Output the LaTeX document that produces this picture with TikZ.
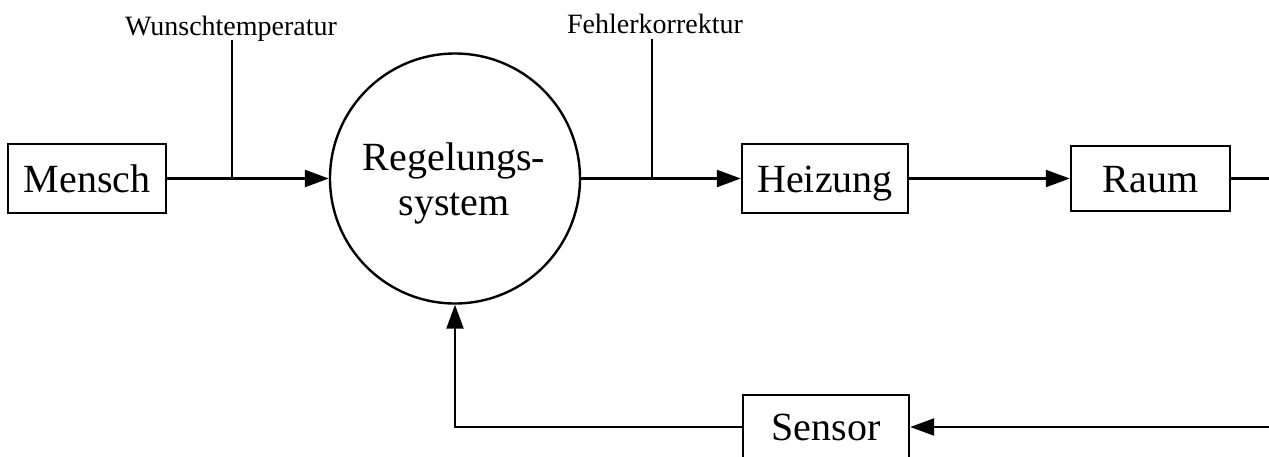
\documentclass[tikz,border=0pt]{standalone}
\usepackage{fontspec}
\setmainfont{Liberation Serif}
\usetikzlibrary{arrows.meta}
\begin{document}
\begin{tikzpicture}[x=1pt,y=-1pt,line width=2.4pt,
  block/.style={draw, rectangle, inner sep=0pt, text height=27pt, text depth=0pt,
    font=\fontsize{40}{45}\selectfont},
  flow/.style={-{Triangle[length=24pt,width=17pt]}},
  tag/.style={font=\fontsize{28}{30}\selectfont, inner sep=0pt, anchor=base}]
\useasboundingbox (0,0) rectangle (1269,456);
\clip (0,0) rectangle (1269,456);

% blocks of the control loop
\node[block, minimum width=158pt, minimum height=69pt] (mensch) at (87,178.5) {Mensch};
\node[draw, circle, minimum size=250pt, inner sep=0pt] (reg) at (455,178.5) {};
\node[font=\fontsize{40}{45}\selectfont, align=center, inner sep=0pt] (regtext) at (454,183.5) {Regelungs-\\system};
\node[block, minimum width=166pt, minimum height=69pt] (heiz) at (825,178.5) {Heizung};
\node[block, minimum width=159pt, minimum height=65pt] (raum) at (1150.5,178.5) {Raum};
\node[block, minimum width=166pt, minimum height=64pt] (sensor) at (826,427) {Sensor};

% inputs entering from above
\node[tag] (wl) at (231,35) {Wunschtemperatur};
\node[tag] (fl) at (655,33) {Fehlerkorrektur};
\coordinate (wt) at (232,40);
\coordinate (wj) at (232,178.5);
\coordinate (ft) at (652,39);
\coordinate (fj) at (652,178.5);
\coordinate (loop) at (1300,300);

% connectors
\draw[flow] (mensch) -- (reg);
\draw (wt) -- (wj);
\draw[flow] (reg) -- (heiz);
\draw (ft) -- (fj);
\draw[flow] (heiz) -- (raum);
\draw[flow] (raum.east) -| (loop) |- (sensor.east);
\draw[flow] (sensor.west) -| (reg.south);
\end{tikzpicture}
\end{document}
